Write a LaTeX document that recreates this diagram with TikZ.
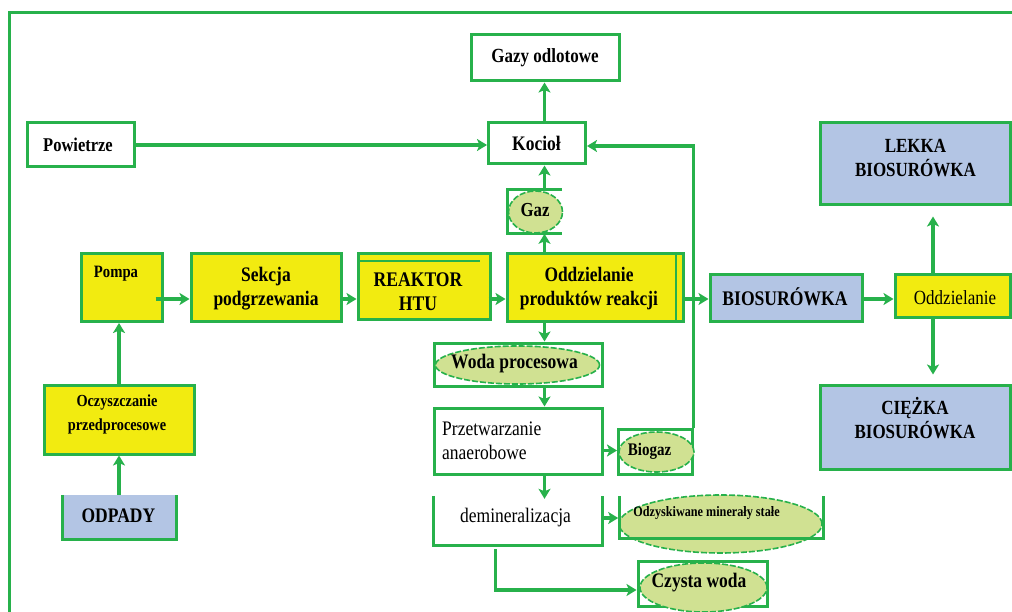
\documentclass[tikz,border=0pt]{standalone}
\usepackage{fontspec}
\usepackage{graphicx}
\setmainfont{Liberation Serif}
\usetikzlibrary{shapes.geometric,arrows.meta}
\definecolor{gr}{HTML}{27B14B}
\definecolor{yel}{HTML}{F2EB10}
\definecolor{blu}{HTML}{B3C5E4}
\definecolor{lgr}{HTML}{D0E192}
\newcommand\ts[1]{\scalebox{1}[1.18]{#1}}
\begin{document}
\begin{tikzpicture}[x=1pt,y=-1pt,
  box/.style={draw=gr,line width=3pt,inner sep=0pt,align=center,fill=white},
  ybox/.style={box,fill=yel},
  bbox/.style={box,fill=blu},
  fillonly/.style={inner sep=0pt,fill=#1},
  ell/.style={ellipse,fill=lgr,draw=gr,line width=1.6pt,dash pattern=on 6pt off 2pt,inner sep=0pt},
  arr/.style={draw=gr,line width=3.4pt,-{Stealth[length=10pt,width=12pt,inset=2.5pt]}},
  ln/.style={draw=gr,line width=3pt},
  bl/.style={draw=gr,line width=3pt},
  fb/.style={font=\fontsize{#1}{24}\selectfont\bfseries,inner sep=0pt,align=center},
  fr/.style={font=\fontsize{#1}{24}\selectfont,inner sep=0pt,align=center},
]
\useasboundingbox (0,0) rectangle (1012,612);
\draw[ln] (9,612) -- (9,12.5) -- (1012,12.5);

% helper coordinates
\coordinate (colA) at (544.5,0);
\coordinate (colB) at (933,0);
\coordinate (colC) at (119,0);
\coordinate (colD) at (495.5,0);
\coordinate (row) at (0,299);
\coordinate (rowK) at (0,146);
\coordinate (rowB) at (0,450.5);
\coordinate (rowC) at (0,518);
\coordinate (rowD) at (0,590);

% top
\node[box,minimum width=148pt,minimum height=46pt] (gazy) at (545,58) {};
\node[fb=17] (gazyt) at (545,57.5) {\ts{Gazy odlotowe}};
\node[box,minimum width=107pt,minimum height=44pt] (pow) at (80.5,145) {};
\node[fb=16.5] (powt) at (78,145) {\ts{Powietrze}};
\node[box,minimum width=97pt,minimum height=41pt] (kociol) at (537,143.5) {};
\node[fb=17.5] (kociolt) at (536.5,143.5) {\ts{Kocioł}};
\draw[bl] (562,190) -- (507.5,190) -- (507.5,234) -- (562,234);
\node[ell,minimum width=54pt,minimum height=42pt] (gaz) at (535.5,212) {};
\node[fb=16.8] (gazt) at (535,210.5) {\ts{Gaz}};

% main row
\node[ybox,minimum width=81pt,minimum height=67.5pt] (pompa) at (121.5,287.75) {};
\node[fb=14.7] (pompat) at (116,274) {\ts{Pompa}};
\node[ybox,minimum width=150pt,minimum height=67.5pt] (sekcja) at (266,287.75) {};
\node[fb=17.5] (sekcjat) at (266,288.4) {\ts{Sekcja}\\\ts{podgrzewania}};
\node[ybox,minimum width=132pt,minimum height=66pt] (reaktor) at (424,287) {};
\draw[gr,line width=2pt] (359,261.5) -- (480,261.5);
\node[fb=17.6] (reaktort) at (418,291.5) {\ts{REAKTOR}\\\ts{HTU}};
\node[ybox,minimum width=176pt,minimum height=67.5pt] (oddz) at (595,287.75) {};
\draw[gr,line width=2pt] (676,255) -- (676,320.5);
\node[fb=17.4] (oddzt) at (589,288.4) {\ts{Oddzielanie}\\\ts{produktów reakcji}};
\node[bbox,minimum width=152pt,minimum height=46.5pt] (bio) at (786,298.25) {};
\node[fb=17.6] (biot) at (785,297) {\ts{BIOSURÓWKA}};
\node[ybox,minimum width=115pt,minimum height=43pt] (oddz2) at (952.5,296.5) {};
\node[fr=17] (oddz2t) at (955,298) {\ts{Oddzielanie}};
\node[bbox,minimum width=190pt,minimum height=82pt] (lekka) at (915,164) {};
\node[fb=17] (lekkat) at (915.5,158) {\ts{LEKKA}\\\ts{BIOSURÓWKA}};
\node[bbox,minimum width=190pt,minimum height=84pt] (ciezka) at (915,427) {};
\node[fb=17] (ciezkat) at (915,418) {\ts{CIĘŻKA}\\\ts{BIOSURÓWKA}};

% left column
\node[ybox,minimum width=150pt,minimum height=69pt] (oczysz) at (119,419.5) {};
\node[fb=14.3] (oczyszt) at (117,414.7) {\ts{Oczyszczanie}\\\ts{przedprocesowe}};
\node[fillonly=blu,minimum width=113pt,minimum height=44pt] (odpady) at (119.5,517) {};
\draw[bl] (odpady.north west) -- (odpady.south west) -- (odpady.south east) -- (odpady.north east);
\node[fb=17.5] (odpadyt) at (118.4,516) {\ts{ODPADY}};

% water column
\node[box,minimum width=168pt,minimum height=43pt] (woda) at (518,364.5) {};
\node[ell,minimum width=164pt,minimum height=38pt] (wodae) at (517.5,365) {};
\node[fb=17.5] (wodat) at (514.5,364) {\ts{Woda procesowa}};
\node[box,minimum width=168pt,minimum height=66pt] (przetw) at (518,441) {};
\node[fr=17.5,anchor=west,align=left] (przetwt) at (442,440.5) {\ts{Przetwarzanie}\\\ts{anaerobowe}};
\node[box,minimum width=73.5pt,minimum height=45pt] (biogaz) at (655.25,451.5) {};
\node[ell,minimum width=75pt,minimum height=40pt] (biogaze) at (656.5,452) {};
\node[fb=15] (biogazt) at (649.5,451) {\ts{Biogaz}};
\node[fillonly=white,minimum width=168pt,minimum height=49pt] (demin) at (518,520.5) {};
\draw[bl] (demin.north west) -- (demin.south west) -- (demin.south east) -- (demin.north east);
\node[fr=17.5] (demint) at (515.5,518) {\ts{demineralizacja}};
\node[ell,minimum width=203pt,minimum height=58pt] (odz) at (720.5,524) {};
\draw[bl] (619,496) -- (619,538) -- (823,538) -- (823,496);
\node[fb=12.2] (odzt) at (706.5,513.5) {\ts{Odzyskiwane minerały stałe}};
\node[box,minimum width=129pt,minimum height=45pt] (czysta) at (702.5,584.25) {};
\node[ell,minimum width=127pt,minimum height=49pt] (czystae) at (703.5,587.5) {};
\node[fb=17.5] (czystat) at (699,583) {\ts{Czysta woda}};

% connectors
\draw[arr] (pow.east) -- (pow.east -| kociol.west);
\draw[arr] (kociol.north -| colA) -- (gazy.south -| colA);
\draw[arr] (gaz.north -| colA) -- (kociol.south -| colA);
\draw[arr] (oddz.north -| colA) -- (gaz.south -| colA);
\draw[arr] ([xshift=-8pt]pompa.east |- row) -- (sekcja.west |- row);
\draw[arr] (sekcja.east |- row) -- (reaktor.west |- row);
\draw[arr] ([xshift=-3pt]reaktor.east |- row) -- (oddz.west |- row);
\draw[arr] (oddz.east |- row) -- (bio.west |- row);
\draw[arr] (bio.east |- row) -- (oddz2.west |- row);
\draw[arr,shorten >=10pt] (oddz2.north -| colB) -- (lekka.south -| colB);
\draw[arr,shorten >=9pt] (oddz2.south -| colB) -- (ciezka.north -| colB);
\draw[arr] (odpady.north -| colC) -- (oczysz.south -| colC);
\draw[arr] (oczysz.north -| colC) -- (pompa.south -| colC);
\draw[arr] (oddz.south -| colA) -- (woda.north -| colA);
\draw[arr] (woda.south -| colA) -- (przetw.north -| colA);
\draw[arr] (przetw.south -| colA) -- ([yshift=-3pt]demin.north -| colA);
\draw[arr] (przetw.east |- rowB) -- (biogaz.west |- rowB);
\draw[arr] (biogaz.north east) -- (biogaz.north east |- rowK) -- (kociol.east |- rowK);
\draw[arr] (demin.east |- rowC) -- (odz.west |- rowC);
\draw[arr] ([yshift=-4pt]demin.south -| colD) -- (colD |- rowD) -- (czysta.west |- rowD);
\end{tikzpicture}
\end{document}
